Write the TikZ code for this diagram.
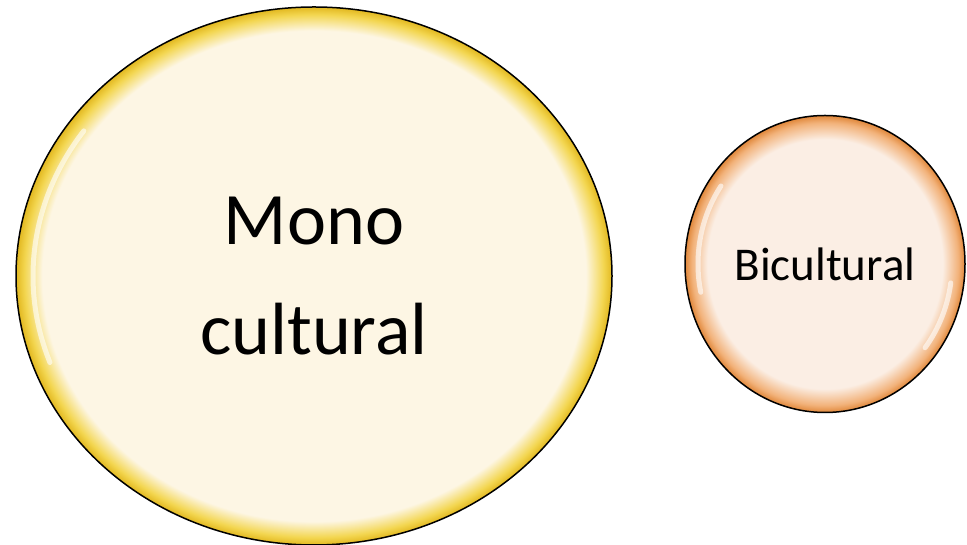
\documentclass[tikz,border=0pt]{standalone}
\usepackage{fontspec}
\setmainfont{Carlito}
\usetikzlibrary{shapes.geometric}

\definecolor{monocream}{HTML}{FDF6E4}
\definecolor{monoyellow}{HTML}{F3D650}
\definecolor{monodark}{HTML}{E2B820}
\definecolor{bicream}{HTML}{FBEEE4}
\definecolor{biorange}{HTML}{F2B27A}
\definecolor{bidark}{HTML}{E0873A}

\pgfdeclareradialshading{monoshade}{\pgfpoint{0bp}{0bp}}{color(0bp)=(monocream); color(22.8bp)=(monocream); color(24.3bp)=(monoyellow); color(25bp)=(monodark); color(50bp)=(monodark)}
\pgfdeclareradialshading{bishade}{\pgfpoint{0bp}{0bp}}{color(0bp)=(bicream); color(21bp)=(bicream); color(23.8bp)=(biorange); color(25bp)=(bidark); color(50bp)=(bidark)}

\tikzset{
  bubble/.style={ellipse, draw=black, line width=1.5pt, inner sep=0pt, align=center},
  shine/.style={white, line width=5pt, line cap=round, opacity=0.6}
}

\begin{document}
\begin{tikzpicture}[x=1pt,y=1pt]
    \useasboundingbox (0,0) rectangle (967,545);

    % Mono cultural circle
    \node[bubble, shading=monoshade, minimum width=596pt, minimum height=538pt,
      font=\fontsize{74}{110}\selectfont] (mono) at (314,269) {Mono\\cultural};
    \draw[shine] (314,269) ++(145:281 and 253) arc (145:200:281 and 253);

    % Bicultural circle
    \node[bubble, shading=bishade, minimum width=280pt, minimum height=297pt,
      font=\fontsize{47}{56}\selectfont] (bi) at (825,281) {Bicultural};
    \draw[shine] (825,281) ++(145:127 and 136) arc (145:192:127 and 136);
    \draw[shine] (825,281) ++(-8:127 and 136) arc (-8:-38:127 and 136);
\end{tikzpicture}
\end{document}
